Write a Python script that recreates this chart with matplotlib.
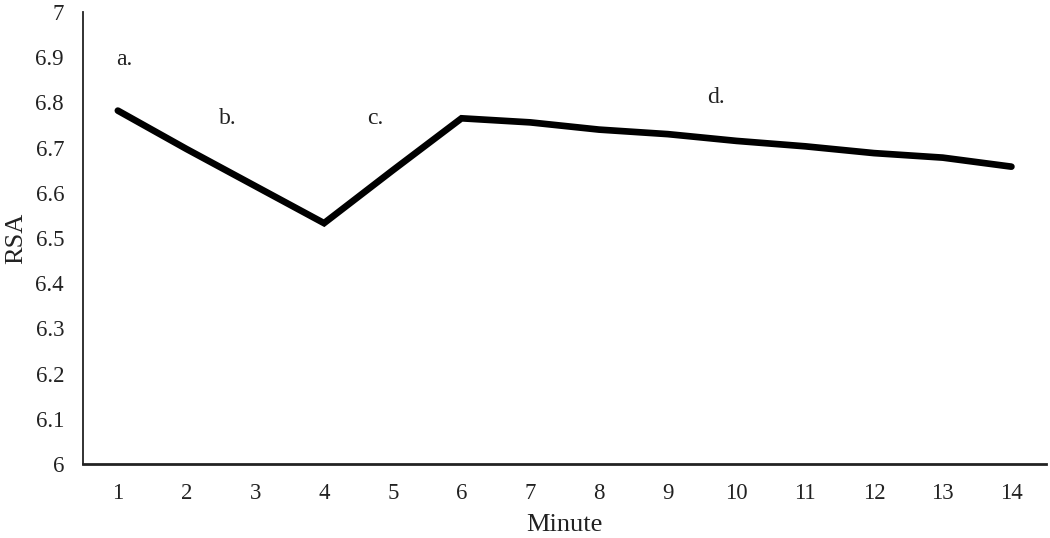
import matplotlib
matplotlib.use("Agg")
import matplotlib.pyplot as plt

minutes = [str(i) for i in range(1, 15)]
rsa = [6.782, 6.697, 6.615, 6.533, 6.650, 6.765, 6.756, 6.740, 6.730, 6.715,
       6.703, 6.688, 6.678, 6.658]
y_ticks = [6, 6.1, 6.2, 6.3, 6.4, 6.5, 6.6, 6.7, 6.8, 6.9, 7]
y_tick_labels = ["6", "6.1", "6.2", "6.3", "6.4", "6.5", "6.6", "6.7", "6.8", "6.9", "7"]
annotations = [("a.", 0.1, 6.895), ("b.", 1.6, 6.765), ("c.", 3.75, 6.765), ("d.", 8.7, 6.81)]

plt.rcParams['font.family'] = ['Liberation Serif', 'DejaVu Serif']

fig = plt.figure(figsize=(10.5, 5.38), dpi=100)
ax = fig.add_axes([0.0795, 0.1375, 0.9165, 0.8400])

x = list(range(len(minutes)))
ax.plot(x, rsa, color='black', lw=4.8, solid_capstyle='round', solid_joinstyle='miter')

ax.set_xlim(-0.5, len(minutes) - 0.5)
ax.set_ylim(6, 7)
ax.set_xticks(x)
ax.set_xticklabels(minutes)
ax.set_yticks(y_ticks)
ax.set_yticklabels(y_tick_labels)
ax.tick_params(axis='both', length=0, labelsize=16.5, colors='#222222')
ax.tick_params(axis='x', pad=14)
ax.tick_params(axis='y', pad=14)

for s in ['top', 'right']:
    ax.spines[s].set_visible(False)
ax.spines['left'].set_linewidth(1.3)
ax.spines['bottom'].set_linewidth(2.0)
ax.spines['bottom'].set_color('#222222')
ax.spines['left'].set_color('#222222')

for txt, xx, yy in annotations:
    ax.text(xx, yy, txt, fontsize=17, color='#222222', ha='center', va='center')

ax.set_xlabel('Minute', fontsize=19, color='#222222', labelpad=7)
ax.set_ylabel('RSA', fontsize=19, color='#222222', labelpad=6)

fig.savefig('out.png', dpi=100)
